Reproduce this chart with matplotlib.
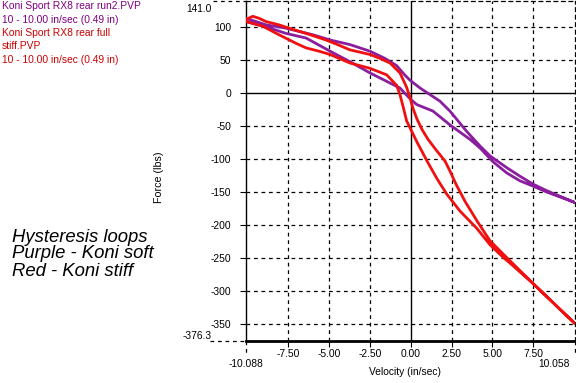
import matplotlib
matplotlib.use("Agg")
import matplotlib.pyplot as plt
import matplotlib.transforms as mtransforms

# ---------------- data (velocity in/sec, force lbs) ----------------
purple_up_v = [-10.09, -8.86, -7.64, -6.84, -6.00, -4.94, -3.72, -2.50, -1.58, -0.86, -0.41, -0.05,
               0.57, 1.79, 2.40, 3.43, 4.24, 4.85, 5.88, 6.69, 7.49, 8.33, 10.06]
purple_up_f = [114, 104, 99, 94, 89, 81, 74, 64, 53, 42, 29, 20,
               8, -12, -27, -58, -80, -95, -113, -126, -138, -148, -166]
purple_dn_v = [10.06, 8.33, 7.49, 6.69, 5.88, 5.04, 4.24, 3.63, 2.40, 1.36, 0.36, -0.05,
               -0.66, -1.70, -2.50, -3.72, -4.94, -6.41, -7.64, -8.86, -10.09]
purple_dn_f = [-166, -150, -141, -133, -121, -104, -83, -70, -48, -27, -17, -8,
               8, 21, 31, 48, 64, 84, 91, 101, 109]

red_up_v = [-10.09, -9.68, -9.29, -8.86, -8.07, -7.46, -6.41, -5.19, -4.58, -3.72, -2.50, -1.88,
            -1.27, -0.66, -0.25, -0.05, 0.14, 0.38, 0.69, 1.06, 1.55, 2.10, 2.40, 2.77, 3.32,
            4.06, 4.85, 5.65, 7.49, 10.06]
red_up_f = [112, 117, 114, 109, 104, 99, 91, 81, 75, 66, 59, 53,
            46, 31, 9, -6, -23, -39, -55, -70, -86, -103, -118, -138, -164,
            -194, -224, -244, -289, -350]
red_dn_v = [10.06, 7.49, 6.08, 5.65, 4.85, 4.04, 3.02, 2.20, 1.59, 1.00, 0.36, -0.25, -0.47,
            -0.66, -0.86, -1.47, -2.50, -3.72, -4.94, -5.62, -6.41, -7.03, -8.07, -9.07, -10.09]
red_dn_f = [-350, -289, -258, -249, -230, -205, -179, -153, -129, -103, -73, -42, -20,
            -2, 12, 28, 38, 46, 59, 64, 69, 76, 89, 102, 109]

x_min, x_max = -10.088, 10.058
y_min, y_max = -376.3, 141.0
x_ticks = [-7.5, -5.0, -2.5, 0.0, 2.5, 5.0, 7.5]
x_tick_labels = ["-7.50", "-5.00", "-2.50", "0.00", "2.50", "5.00", "7.50"]
y_ticks = [-350, -300, -250, -200, -150, -100, -50, 0, 50, 100]
y_tick_labels = [str(t) for t in y_ticks]
x_end_labels = ["-10.088", "10.058"]
y_end_labels = ["141.0", "-376.3"]

legend_lines = [
    ("Koni Sport RX8 rear run2.PVP", "#800080"),
    ("10 - 10.00 in/sec (0.49 in)", "#800080"),
    ("Koni Sport RX8 rear full", "#CC0000"),
    ("stiff.PVP", "#CC0000"),
    ("10 - 10.00 in/sec (0.49 in)", "#CC0000"),
]
note_lines = ["Hysteresis loops", "Purple - Koni soft", "Red - Koni stiff"]

purple = "#8A1E9E"
red = "#F01010"
FONT = "Liberation Sans"
FS = 7.4

W, H = 576, 383
fig = plt.figure(figsize=(W / 100, H / 100), dpi=100)
ax = fig.add_axes([246 / W, (H - 341) / H, 329 / W, 340.5 / H])

ax.plot(purple_up_v + purple_dn_v, purple_up_f + purple_dn_f, color=purple, lw=2.0,
        solid_joinstyle="round", zorder=3)
ax.plot(red_up_v + red_dn_v, red_up_f + red_dn_f, color=red, lw=2.0,
        solid_joinstyle="round", zorder=4)

ax.set_xlim(x_min, x_max)
ax.set_ylim(y_min, y_max)

dash = (0, (3, 3))
for t in x_ticks:
    if t != 0:
        ax.axvline(t, color="black", lw=0.9, ls=dash, zorder=1)
for t in y_ticks:
    if t != 0:
        ax.axhline(t, color="black", lw=0.9, ls=dash, zorder=1)
ax.axvline(0, color="black", lw=1.0, zorder=2)
ax.axhline(0, color="black", lw=1.0, zorder=2)

for side in ["top", "right"]:
    ax.spines[side].set_linestyle(dash)
    ax.spines[side].set_linewidth(0.9)
ax.spines["bottom"].set_linewidth(2.0)
ax.spines["left"].set_linewidth(1.0)

ax.set_xticks(x_ticks)
ax.set_xticklabels(x_tick_labels, fontfamily=FONT, fontsize=FS)
ax.set_yticks(y_ticks)
ax.set_yticklabels(y_tick_labels, fontfamily=FONT, fontsize=FS)
ax.tick_params(axis="x", length=4, width=0.8, pad=1.5, direction="out")
ax.tick_params(axis="y", length=4.5, width=0.8, pad=6, direction="out")

# end labels with dashed leaders
bx = mtransforms.blended_transform_factory(ax.transData, ax.transAxes)
by = mtransforms.blended_transform_factory(ax.transAxes, ax.transData)
xe = [x_min, x_max]
for v, lab, ha, dx in zip(xe, x_end_labels, ["center", "right"], [0, -5]):
    ax.plot([v, v], [0, -0.045], transform=bx, color="black", lw=0.9, ls=dash, clip_on=False)
    ax.annotate(lab, xy=(v, 0), xycoords=bx, xytext=(dx, -18), textcoords="offset pixels",
                ha=ha, va="top", fontfamily=FONT, fontsize=FS)
ye = [y_max, y_min]
for v, lab, va, dy, x0 in zip(ye, y_end_labels, ["top", "bottom"], [-3, 0], [-0.1, -0.11]):
    ax.plot([x0, 0], [v, v], transform=by, color="black", lw=0.9, ls=dash, clip_on=False)
    ax.annotate(lab, xy=(0, v), xycoords=by, xytext=(-34, dy), textcoords="offset pixels",
                ha="right", va=va, fontfamily=FONT, fontsize=FS)

ax.set_xlabel("Velocity (in/sec)", fontfamily=FONT, fontsize=FS)
ax.xaxis.set_label_coords(0.483, -0.0764)
ax.set_ylabel("Force (lbs)", fontfamily=FONT, fontsize=FS + 0.3)
ax.yaxis.set_label_coords(-0.249, 0.482)

ys = [6, 20, 33, 46, 60]
for (txt, col), yp in zip(legend_lines, ys):
    fig.text(2 / W, 1 - yp / H, txt, color=col, fontfamily=FONT, fontsize=FS,
             ha="left", va="center")

for txt, yp in zip(note_lines, [237, 254, 271]):
    fig.text(12 / W, 1 - yp / H, txt, color="black", fontfamily=FONT, fontsize=13.3,
             style="italic", ha="left", va="center")

fig.savefig("out.png", dpi=100)
